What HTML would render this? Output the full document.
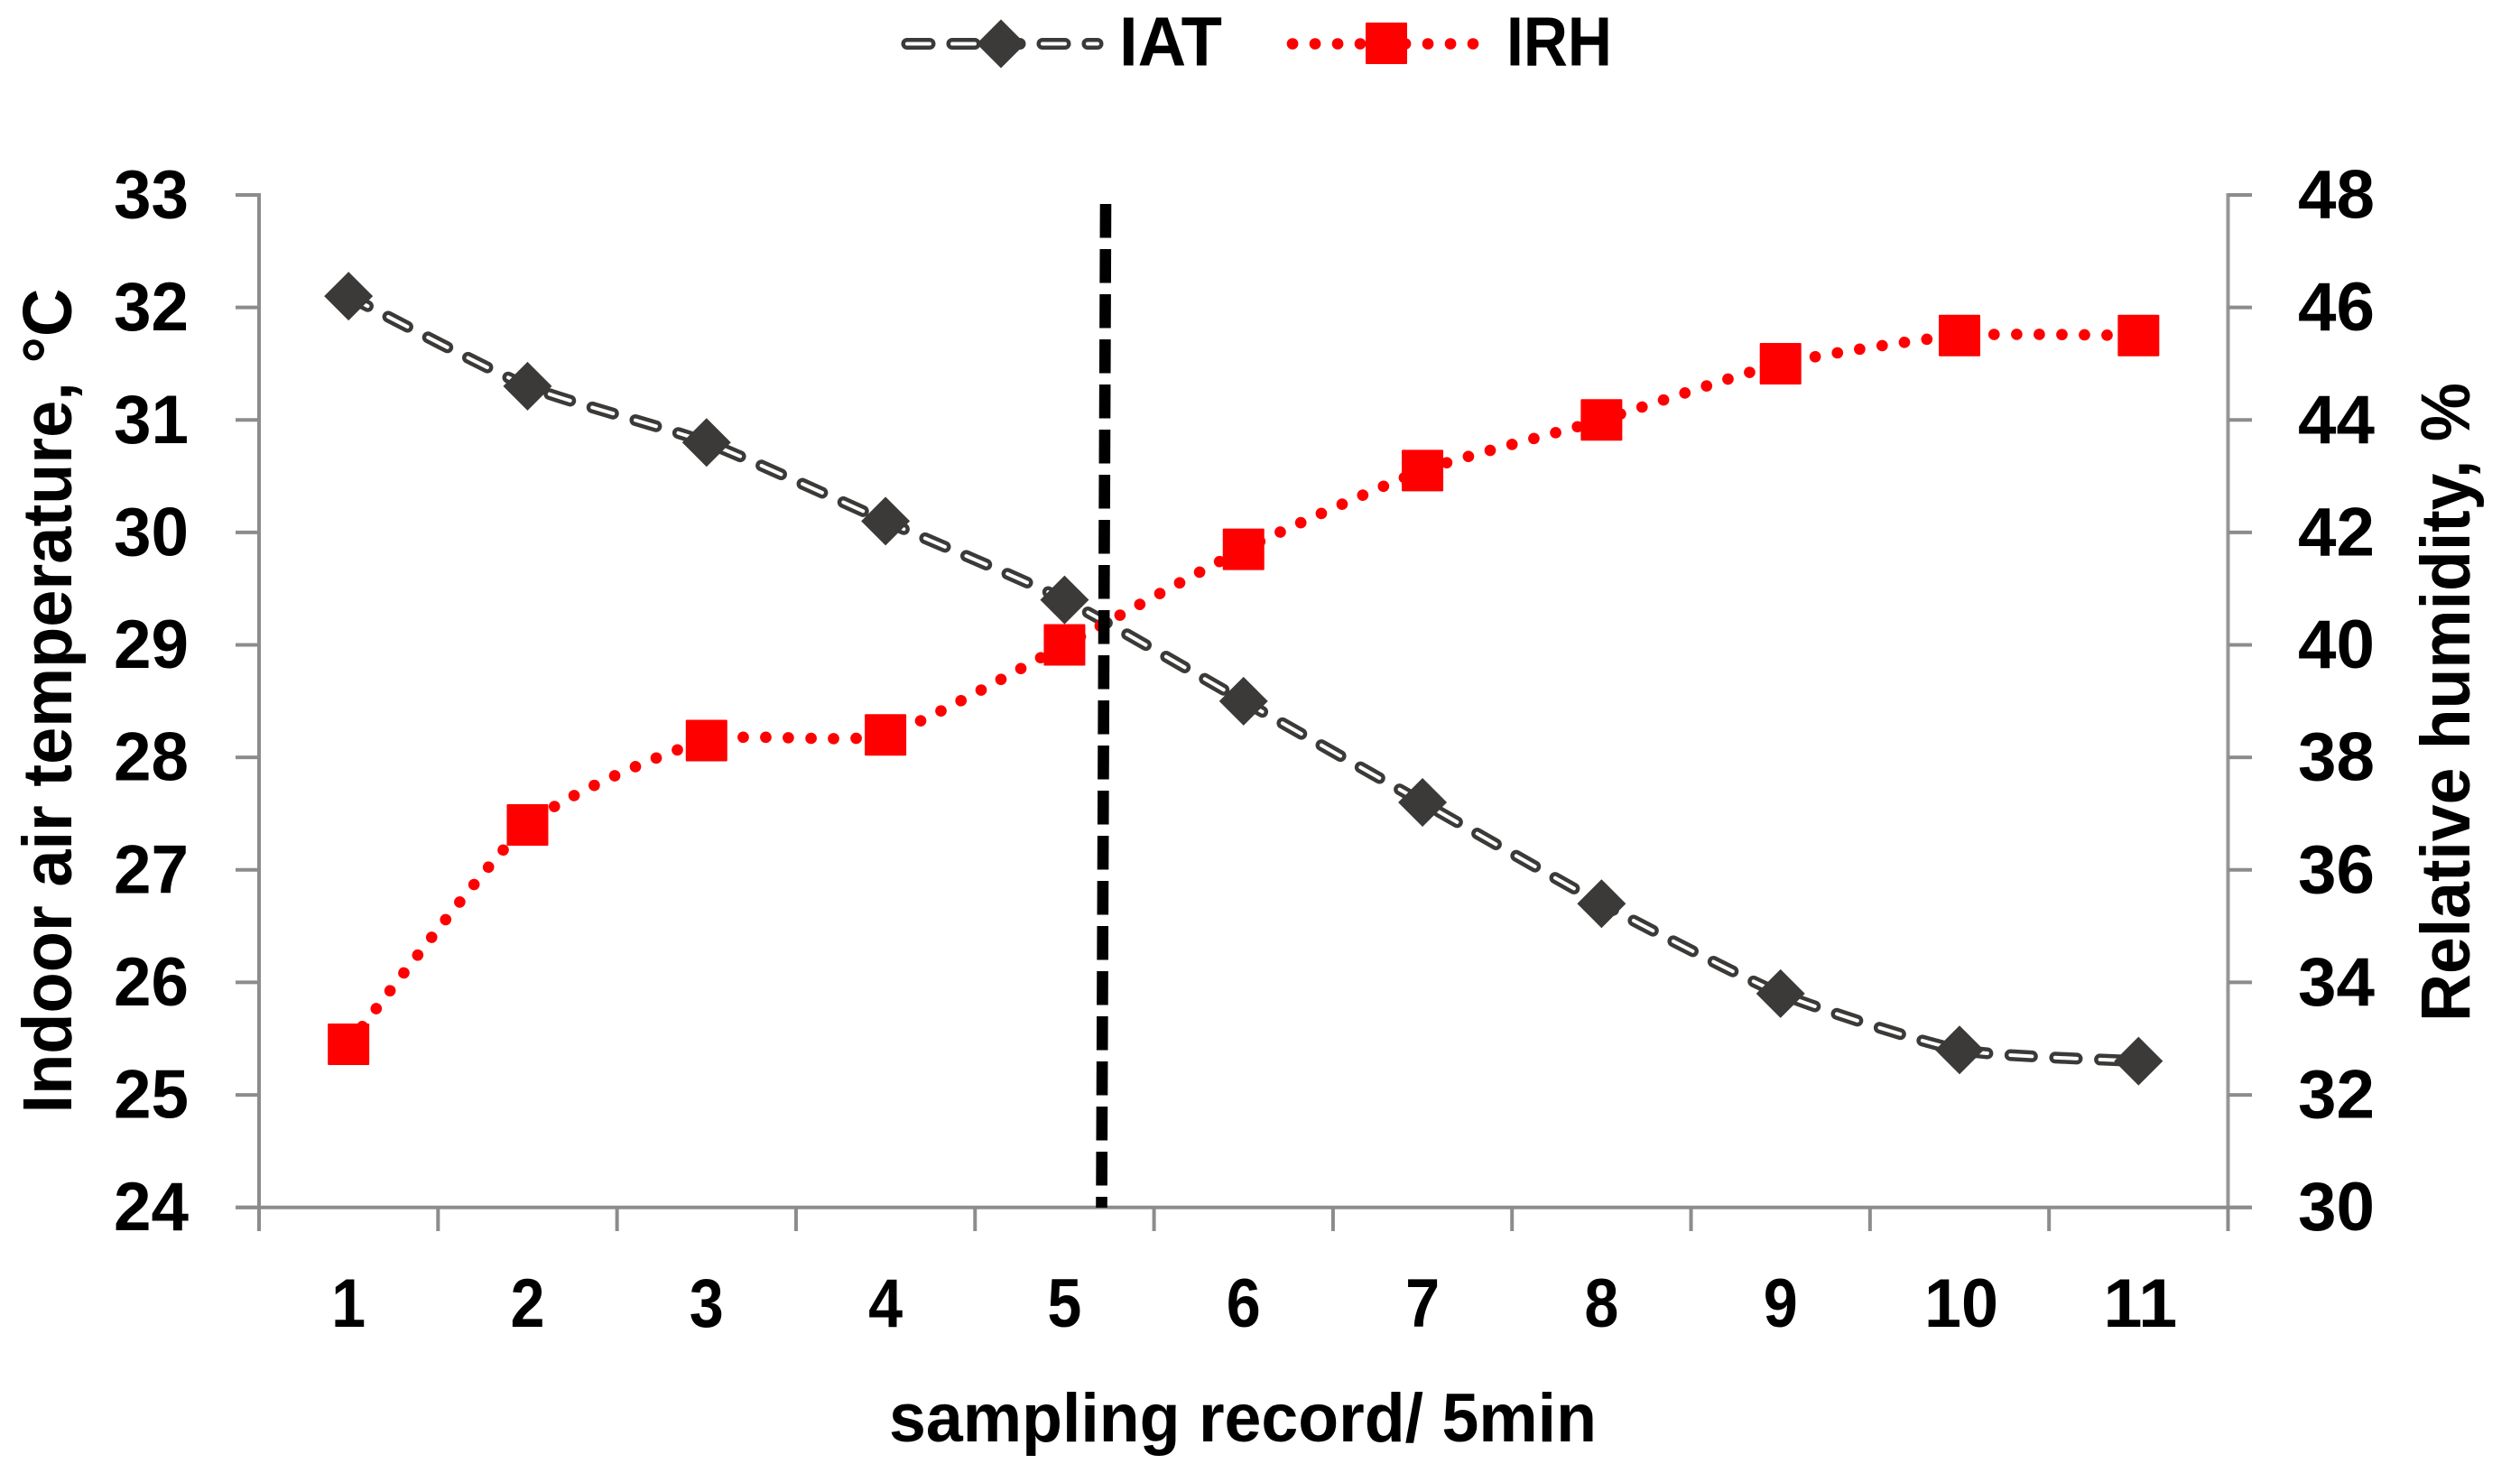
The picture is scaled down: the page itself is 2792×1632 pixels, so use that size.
<!DOCTYPE html>
<html lang="en">
<head>
<meta charset="utf-8">
<title>Indoor air temperature and relative humidity</title>
<style>
  html, body { margin: 0; padding: 0; background: #fff; }
  #chart { display: block; width: 2792px; height: 1632px; background: #fff; }
  text { font-family: "Liberation Sans", Arial, sans-serif; font-weight: 700; fill: #000; }
</style>
</head>
<body>
<svg id="chart" xmlns="http://www.w3.org/2000/svg" width="2792" height="1632" viewBox="0 0 2792 1632">
  <g id="axes">
    <line x1="287" y1="214" x2="287" y2="1364" stroke="#8c8c8c" stroke-width="4"/>
    <line x1="2468.5" y1="214" x2="2468.5" y2="1364" stroke="#969696" stroke-width="4"/>
    <line x1="261" y1="1337.7" x2="2495" y2="1337.7" stroke="#8c8c8c" stroke-width="4"/>
  </g>
  <g id="ticks"></g>
  <g id="series"></g>

  <g>
    <line x1="1225" y1="226" x2="1220.5" y2="1338" stroke="#000" stroke-width="12.6" stroke-dasharray="37.5 12.5"/>
  </g>

  <text transform="translate(79 776.5) rotate(-90)" text-anchor="middle" font-size="77" textLength="914" lengthAdjust="spacingAndGlyphs">Indoor air temperature, °C</text>
  <text transform="translate(2736 778) rotate(-90)" text-anchor="middle" font-size="77" textLength="708" lengthAdjust="spacingAndGlyphs">Relative humidity, %</text>
  <text x="985" y="1597" font-size="76" textLength="784" lengthAdjust="spacingAndGlyphs">sampling record/ 5min</text>

  <g>
    <g>
      <line x1="1005" y1="48.5" x2="1216" y2="48.5" stroke="#3b3a38" stroke-width="13" stroke-linecap="round" stroke-dasharray="25 25"/>
      <line x1="1005" y1="48.5" x2="1216" y2="48.5" stroke="#fff" stroke-width="4" stroke-linecap="round" stroke-dasharray="25 25"/>
      <polygon points="1109,21.5 1136,48.5 1109,75.5 1082,48.5" fill="#3b3a38"/>
      <text x="1240" y="72.7" font-size="77" textLength="114" lengthAdjust="spacingAndGlyphs">IAT</text>
    </g>
    <g>
      <line x1="1432" y1="48.5" x2="1632" y2="48.5" stroke="#ff0000" stroke-width="12.6" stroke-linecap="round" stroke-dasharray="0.1 24.9"/>
      <rect x="1513" y="25" width="46" height="46" rx="1" fill="#ff0000"/>
      <text x="1669" y="72.7" font-size="77" textLength="117" lengthAdjust="spacingAndGlyphs">IRH</text>
    </g>
  </g>
</svg>

<script>
const categories = ["1", "2", "3", "4", "5", "6", "7", "8", "9", "10", "11"];
const iatValues = [32.1, 31.3, 30.8, 30.1, 29.4, 28.5, 27.6, 26.7, 25.9, 25.4, 25.3];
const irhValues = [32.9, 36.8, 38.3, 38.4, 40.0, 41.7, 43.1, 44.0, 45.0, 45.5, 45.5];
const leftTickLabels = [24, 25, 26, 27, 28, 29, 30, 31, 32, 33];
const rightTickLabels = [30, 32, 34, 36, 38, 40, 42, 44, 46, 48];

const NS = "http://www.w3.org/2000/svg";
const plot = { left: 287, right: 2468.5, top: 216, bottom: 1337.7 };
const smoothing = 0.1;
const leftMin = leftTickLabels[0];
const leftMax = leftTickLabels[leftTickLabels.length - 1];
const rightMin = rightTickLabels[0];
const rightMax = rightTickLabels[rightTickLabels.length - 1];
const bandWidth = (plot.right - plot.left) / categories.length;

function xCenter(i) { return plot.left + (i + 0.5) * bandWidth; }
function xEdge(i) { return plot.left + i * bandWidth; }
function yLeft(v) { return plot.bottom - (v - leftMin) / (leftMax - leftMin) * (plot.bottom - plot.top); }
function yRight(v) { return plot.bottom - (v - rightMin) / (rightMax - rightMin) * (plot.bottom - plot.top); }

function svgEl(tag, attrs) {
  const el = document.createElementNS(NS, tag);
  for (const k in attrs) el.setAttribute(k, attrs[k]);
  return el;
}

function smoothPath(pts) {
  let d = "M" + pts[0][0] + " " + pts[0][1];
  for (let i = 0; i < pts.length - 1; i++) {
    const p0 = pts[Math.max(i - 1, 0)];
    const p1 = pts[i];
    const p2 = pts[i + 1];
    const p3 = pts[Math.min(i + 2, pts.length - 1)];
    const c1x = p1[0] + (p2[0] - p0[0]) * smoothing;
    const c1y = p1[1] + (p2[1] - p0[1]) * smoothing;
    const c2x = p2[0] - (p3[0] - p1[0]) * smoothing;
    const c2y = p2[1] - (p3[1] - p1[1]) * smoothing;
    d += " C" + c1x + " " + c1y + " " + c2x + " " + c2y + " " + p2[0] + " " + p2[1];
  }
  return d;
}

const ticksGroup = document.getElementById("ticks");
const seriesGroup = document.getElementById("series");

/* x ticks */
for (let i = 0; i <= categories.length; i++) {
  const t = svgEl("line", { x1: xEdge(i), y1: plot.bottom, x2: xEdge(i), y2: 1364, stroke: "#8c8c8c", "stroke-width": 4 });
  
  
  ticksGroup.appendChild(t);
}

/* x tick labels */
categories.forEach(function (c, i) {
  const lab = svgEl("text", { x: xCenter(i) + (c.length > 1 ? 2 : 0), y: 1470, "text-anchor": "middle", "font-size": 76, textLength: c.length > 1 ? 82 : 38, lengthAdjust: "spacingAndGlyphs" });
  lab.textContent = c;
  
  
  ticksGroup.appendChild(lab);
});

/* left ticks and labels */
leftTickLabels.forEach(function (v) {
  const y = yLeft(v);
  const t = svgEl("line", { x1: 261, y1: y, x2: plot.left, y2: y, stroke: "#8c8c8c", "stroke-width": 4 });
  
  
  ticksGroup.appendChild(t);
  const lab = svgEl("text", { x: 209, y: y + 25.5, "text-anchor": "end", "font-size": 76, textLength: 83, lengthAdjust: "spacingAndGlyphs" });
  lab.textContent = String(v);
  
  
  ticksGroup.appendChild(lab);
});

/* right ticks and labels */
rightTickLabels.forEach(function (v) {
  const y = yRight(v);
  const t = svgEl("line", { x1: plot.right, y1: y, x2: 2495, y2: y, stroke: "#8c8c8c", "stroke-width": 4 });
  
  
  ticksGroup.appendChild(t);
  const lab = svgEl("text", { x: 2546, y: y + 25.5, "font-size": 76, textLength: 85, lengthAdjust: "spacingAndGlyphs" });
  lab.textContent = String(v);
  
  
  ticksGroup.appendChild(lab);
});

/* IAT series */
const iatPoints = iatValues.map(function (v, i) { return [xCenter(i), yLeft(v)]; });
const iatD = smoothPath(iatPoints);

const iatOuter = svgEl("path", { d: iatD, fill: "none", stroke: "#3b3a38", "stroke-width": 13, "stroke-linecap": "round", "stroke-dasharray": "24 25.6" });


seriesGroup.appendChild(iatOuter);

const iatInner = svgEl("path", { d: iatD, fill: "none", stroke: "#fff", "stroke-width": 4, "stroke-linecap": "round", "stroke-dasharray": "24 25.6" });


seriesGroup.appendChild(iatInner);

iatPoints.forEach(function (p) {
  const r = 27;
  const m = svgEl("polygon", { points: p[0] + "," + (p[1] - r) + " " + (p[0] + r) + "," + p[1] + " " + p[0] + "," + (p[1] + r) + " " + (p[0] - r) + "," + p[1], fill: "#3b3a38" });
  
  
  seriesGroup.appendChild(m);
});

/* IRH series */
const irhPoints = irhValues.map(function (v, i) { return [xCenter(i), yRight(v)]; });
const irhD = smoothPath(irhPoints);

const irhLine = svgEl("path", { d: irhD, fill: "none", stroke: "#ff0000", "stroke-width": 12.6, "stroke-linecap": "round", "stroke-dasharray": "0.1 24.9" });


seriesGroup.appendChild(irhLine);

irhPoints.forEach(function (p) {
  const s = 46;
  const m = svgEl("rect", { x: p[0] - s / 2, y: p[1] - s / 2, width: s, height: s, rx: 1, fill: "#ff0000" });
  
  
  seriesGroup.appendChild(m);
});
</script>
</body>
</html>
